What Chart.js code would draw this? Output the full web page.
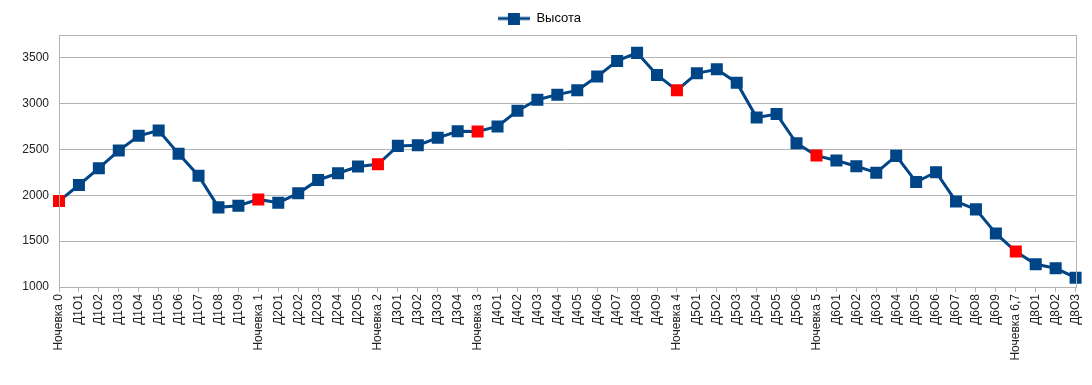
<!DOCTYPE html>
<html lang="ru">
<head>
    <meta charset="UTF-8">
    <title>Высота</title>
    <script src="https://cdn.jsdelivr.net/npm/chart.js"></script>
    <style>
        html, body { margin: 0; padding: 0; background: #fff; }
        #wrap { width: 1092px; height: 385px; }
    </style>
</head>
<body>
    <div id="wrap"><canvas id="heightChart" width="1092" height="385"></canvas></div>

    <script>
        // точки маршрута
        var labels = [
            'Ночевка 0', 'Д1О1', 'Д1О2', 'Д1О3', 'Д1О4', 'Д1О5', 'Д1О6', 'Д1О7', 'Д1О8', 'Д1О9',
            'Ночевка 1', 'Д2О1', 'Д2О2', 'Д2О3', 'Д2О4', 'Д2О5',
            'Ночевка 2', 'Д3О1', 'Д3О2', 'Д3О3', 'Д3О4',
            'Ночевка 3', 'Д4О1', 'Д4О2', 'Д4О3', 'Д4О4', 'Д4О5', 'Д4О6', 'Д4О7', 'Д4О8', 'Д4О9',
            'Ночевка 4', 'Д5О1', 'Д5О2', 'Д5О3', 'Д5О4', 'Д5О5', 'Д5О6',
            'Ночевка 5', 'Д6О1', 'Д6О2', 'Д6О3', 'Д6О4', 'Д6О5', 'Д6О6', 'Д6О7', 'Д6О8', 'Д6О9',
            'Ночевка 6,7', 'Д8О1', 'Д8О2', 'Д8О3'
        ];
        var heights = [
            1938, 2113, 2296, 2489, 2650, 2708, 2453, 2215, 1869, 1887,
            1956, 1920, 2022, 2168, 2241, 2314,
            2339, 2540, 2547, 2628, 2700,
            2698, 2752, 2923, 3044, 3099, 3146, 3296, 3467, 3555, 3314,
            3146, 3332, 3376, 3230, 2850, 2887, 2569,
            2434, 2380, 2318, 2248, 2431, 2146, 2252, 1934, 1847, 1584,
            1387, 1248, 1204, 1102
        ];
        var yTicks = [1000, 1500, 2000, 2500, 3000, 3500];

        var lineColor = '#004586';
        var campColor = '#ff0000';
        var gridColor = '#b3b3b3';

        var pointColors = labels.map(function(l) {
            return l.indexOf('Ночевка') === 0 ? campColor : lineColor;
        });

        // значок легенды: линия с квадратом
        var legendIcon = document.createElement('canvas');
        legendIcon.width = 32;
        legendIcon.height = 12;
        var ic = legendIcon.getContext('2d');
        ic.strokeStyle = lineColor;
        ic.lineWidth = 3;
        ic.beginPath();
        ic.moveTo(0, 6);
        ic.lineTo(32, 6);
        ic.stroke();
        ic.fillStyle = lineColor;
        ic.fillRect(10, 0, 12, 12);

        // рамка области графика
        var frame = {
            id: 'frame',
            afterDraw: function(chart) {
                var a = chart.chartArea;
                var c = chart.ctx;
                c.save();
                c.strokeStyle = gridColor;
                c.lineWidth = 1;
                c.strokeRect(Math.round(a.left) + 0.5, Math.round(a.top) + 0.5,
                    Math.round(a.right - a.left), Math.round(a.bottom - a.top));
                c.restore();
            }
        };

        Chart.defaults.font.family = '"Liberation Sans", Arial, sans-serif';
        Chart.defaults.font.size = 12;
        Chart.defaults.color = '#222';

        var ctx = document.getElementById('heightChart').getContext('2d');
        var heightChart = new Chart(ctx, {
            type: 'line',
            data: {
                labels: labels,
                datasets: [{
                    label: 'Высота',
                    data: heights,
                    borderColor: lineColor,
                    borderWidth: 3,
                    pointStyle: 'rect',
                    pointRadius: 8.5,
                    pointBorderWidth: 0,
                    pointBackgroundColor: pointColors,
                    pointBorderColor: pointColors,
                    tension: 0
                }]
            },
            options: {
                responsive: false,
                animation: false,
                layout: { padding: { top: 2, right: 13, left: 0, bottom: 0 } },
                plugins: {
                    legend: {
                        position: 'top',
                        labels: {
                            usePointStyle: true,
                            pointStyleWidth: 32,
                            font: { size: 13 },
                            padding: 10,
                            generateLabels: function(chart) {
                                return [{
                                    text: 'Высота',
                                    pointStyle: legendIcon,
                                    fillStyle: lineColor,
                                    strokeStyle: lineColor,
                                    lineWidth: 0,
                                    datasetIndex: 0
                                }];
                            }
                        }
                    },
                    tooltip: { enabled: false }
                },
                scales: {
                    x: {
                        offset: false,
                        grid: {
                            drawOnChartArea: false,
                            drawTicks: true,
                            tickLength: 5,
                            color: gridColor
                        },
                        border: { color: gridColor },
                        ticks: {
                            autoSkip: false,
                            maxRotation: 90,
                            minRotation: 90,
                            padding: 2
                        },
                        afterFit: function(scale) { scale.height = 98; }
                    },
                    y: {
                        min: yTicks[0],
                        max: 3750,
                        grid: { color: gridColor, drawTicks: false },
                        border: { color: gridColor },
                        ticks: {
                            stepSize: 500,
                            includeBounds: false,
                            padding: 10,
                            callback: function(v) { return String(v); }
                        },
                        afterBuildTicks: function(scale) {
                            scale.ticks = yTicks.map(function(v) { return { value: v }; });
                        },
                        afterFit: function(scale) { scale.width = 59; }
                    }
                }
            },
            plugins: [frame]
        });
    </script>
</body>
</html>
